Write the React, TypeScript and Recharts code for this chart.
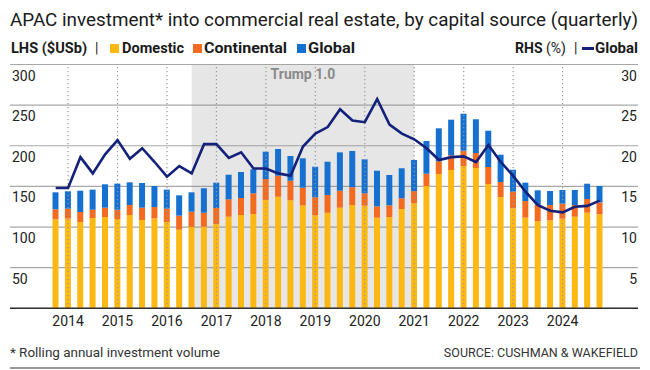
import React from 'react';
import {
  ComposedChart,
  Bar,
  Line,
  XAxis,
  YAxis,
  CartesianGrid,
  ReferenceArea,
  ReferenceLine,
} from 'recharts';

const quarters = [
  '2013 Q4',
  '2014 Q1', '2014 Q2', '2014 Q3', '2014 Q4',
  '2015 Q1', '2015 Q2', '2015 Q3', '2015 Q4',
  '2016 Q1', '2016 Q2', '2016 Q3', '2016 Q4',
  '2017 Q1', '2017 Q2', '2017 Q3', '2017 Q4',
  '2018 Q1', '2018 Q2', '2018 Q3', '2018 Q4',
  '2019 Q1', '2019 Q2', '2019 Q3', '2019 Q4',
  '2020 Q1', '2020 Q2', '2020 Q3', '2020 Q4',
  '2021 Q1', '2021 Q2', '2021 Q3', '2021 Q4',
  '2022 Q1', '2022 Q2', '2022 Q3', '2022 Q4',
  '2023 Q1', '2023 Q2', '2023 Q3', '2023 Q4',
  '2024 Q1', '2024 Q2', '2024 Q3', '2024 Q4',
];

// LHS ($USb)
const domestic = [
  109.5, 110.3, 106.2, 111.1, 112.3, 109.9, 114.8, 108.7, 110.7, 106.2, 96.7, 100.2,
  100.4, 103.7, 112.7, 114.8, 116.0, 133.3, 137.3, 132.9, 126.7, 114.8, 117.6, 123.8,
  127.1, 126.2, 111.5, 112.3, 122.2, 129.6, 150.5, 165.3, 170.2, 175.1, 172.6, 152.9,
  137.0, 123.0, 111.5, 107.1, 108.3, 110.3, 112.7, 117.6, 115.7,
];
const continental = [
  12.3, 12.3, 12.3, 10.2, 11.5, 11.4, 12.3, 15.1, 13.9, 16.4, 17.3, 18.7,
  17.2, 19.7, 21.4, 20.9, 25.5, 25.8, 25.9, 24.1, 21.7, 21.8, 21.8, 20.9,
  21.8, 15.3, 14.0, 14.4, 13.2, 14.7, 15.1, 15.6, 18.1, 18.8, 18.5, 21.0,
  18.4, 20.5, 20.5, 20.4, 18.8, 18.4, 14.4, 16.9, 14.7,
];
const globalVol = [
  20.9, 21.4, 26.2, 24.7, 28.8, 32.1, 27.9, 30.4, 25.9, 23.4, 25.0, 23.8,
  30.1, 31.2, 30.3, 32.0, 29.5, 33.6, 32.8, 30.4, 36.2, 37.6, 41.0, 47.2,
  44.7, 41.8, 43.8, 37.3, 36.9, 38.2, 40.3, 40.6, 43.8, 45.5, 41.5, 44.6,
  33.6, 27.0, 22.6, 17.7, 17.2, 16.9, 18.5, 18.8, 20.1,
];
// RHS (%)
const globalShare = [
  14.8, 14.8, 18.6, 16.6, 18.95, 20.7, 18.4, 19.7, 18.0, 16.2, 17.5, 16.6,
  20.2, 20.2, 18.5, 19.2, 17.2, 17.2, 16.6, 16.3, 19.9, 21.5, 22.3, 24.5,
  23.1, 22.9, 25.75, 22.6, 21.5, 20.8, 19.7, 18.25, 18.6, 18.7, 18.0, 20.1,
  18.0, 16.3, 14.35, 12.7, 12.0, 11.8, 12.5, 12.6, 13.25,
];

const leftTicks = [50, 100, 150, 200, 250, 300];
const rightTicks = [5, 10, 15, 20, 25, 30];
const trumpStart = '2016 Q3';
const trumpEnd = '2021 Q1';
const trumpLabel = 'Trump 1.0';

const data = quarters.map((q, i) => ({
  i,
  q,
  domestic: domestic[i],
  continental: continental[i],
  global: globalVol[i],
  share: globalShare[i],
}));

const yearTickIdx = quarters
  .map((q, i) => (q.endsWith('Q1') ? i : -1))
  .filter((i) => i >= 0);

const FONT = "Roboto, 'Noto Sans', 'DejaVu Sans', sans-serif";
const C_DOM = '#FDB813';
const C_CON = '#F26B21';
const C_GLO = '#1670D0';
const C_LINE = '#13217A';

const LeftTick = (props: any) => (
  <text x={12} y={props.y + 16} fontSize={14} fill="#222" fontFamily={FONT}>
    {props.payload.value}
  </text>
);
const RightTick = (props: any) => (
  <text x={637} y={props.y + 16} fontSize={14} fill="#222" textAnchor="end" fontFamily={FONT}>
    {props.payload.value}
  </text>
);
const XTick = (props: any) => (
  <text x={props.x} y={326} fontSize={14} fill="#222" textAnchor="middle" fontFamily={FONT}>
    {quarters[props.payload.value].slice(0, 4)}
  </text>
);

export default function App() {
  return (
    <div
      style={{
        position: 'absolute',
        left: 0,
        top: 0,
        width: 650,
        height: 370,
        background: '#fff',
        fontFamily: FONT,
      }}
    >
      <div style={{ position: 'absolute', left: 0, top: 0 }}>
        <ComposedChart
          width={650}
          height={370}
          data={data}
          margin={{ top: 64.5, right: 11, bottom: 31.7, left: 9 }}
        >
          <ReferenceArea
            x1={quarters.indexOf(trumpStart)}
            x2={quarters.indexOf(trumpEnd)}
            yAxisId="left"
            fill="#808080"
            fillOpacity={0.2}
            stroke="none"
            label={{
              value: trumpLabel,
              position: 'insideTop',
              fill: '#8a8a8a',
              fontSize: 14,
              fontWeight: 700,
              fontFamily: FONT,
              offset: 5,
            }}
          />
          <CartesianGrid vertical={false} stroke="#a8a8a8" strokeWidth={1.2} yAxisId="left" />
          <XAxis
            type="number"
            dataKey="i"
            domain={[0, quarters.length - 1]}
            ticks={yearTickIdx}
            interval={0}
            padding={{ left: 45.7, right: 38.3 }}
            axisLine={{ stroke: '#333', strokeWidth: 1.5 }}
            tickLine={false}
            tick={<XTick />}
            height={30}
          />
          <YAxis
            yAxisId="left"
            domain={[0, 300]}
            ticks={leftTicks}
            interval={0}
            width={1}
            axisLine={false}
            tickLine={false}
            tick={<LeftTick />}
          />
          <YAxis
            yAxisId="right"
            orientation="right"
            domain={[0, 30]}
            ticks={rightTicks}
            interval={0}
            width={1}
            axisLine={false}
            tickLine={false}
            tick={<RightTick />}
          />
          <Bar yAxisId="left" dataKey="domestic" stackId="a" fill={C_DOM} barSize={6} isAnimationActive={false} />
          <Bar yAxisId="left" dataKey="continental" stackId="a" fill={C_CON} barSize={6} isAnimationActive={false} />
          <Bar yAxisId="left" dataKey="global" stackId="a" fill={C_GLO} barSize={6} isAnimationActive={false} />
          {yearTickIdx.map((i) => (
            <ReferenceLine
              key={i}
              x={i}
              yAxisId="left"
              stroke="#999"
              strokeWidth={1.2}
              strokeDasharray="1.2 2.8"
            />
          ))}
          <Line
            yAxisId="right"
            type="linear"
            dataKey="share"
            stroke={C_LINE}
            strokeWidth={2.6}
            dot={false}
            isAnimationActive={false}
          />
        </ComposedChart>
      </div>
      <svg
        width={650}
        height={370}
        style={{ position: 'absolute', left: 0, top: 0, pointerEvents: 'none' }}
        fontFamily={FONT}
      >
        <text x={10} y={26} fontSize={18.5} fill="#1a1a1a" textLength={628} lengthAdjust="spacingAndGlyphs">
          APAC investment* into commercial real estate, by capital source (quarterly)
        </text>
        <g fontSize={14} fill="#1a1a1a">
          <text x={11} y={53} fontWeight={700} textLength={76} lengthAdjust="spacingAndGlyphs">
            LHS ($USb)
          </text>
          <text x={95} y={53}>|</text>
          <rect x={110} y={44} width={9} height={9} fill={C_DOM} />
          <text x={122} y={53} fontWeight={700} textLength={62} lengthAdjust="spacingAndGlyphs">
            Domestic
          </text>
          <rect x={193} y={44} width={9} height={9} fill={C_CON} />
          <text x={204} y={53} fontWeight={700} textLength={83} lengthAdjust="spacingAndGlyphs">
            Continental
          </text>
          <rect x={297} y={44} width={9} height={9} fill={C_GLO} />
          <text x={308} y={53} fontWeight={700} textLength={47} lengthAdjust="spacingAndGlyphs">
            Global
          </text>
          <text x={566} y={53} textAnchor="end">
            <tspan fontWeight={700}>RHS</tspan> (%)
          </text>
          <text x={574} y={53}>|</text>
          <line x1={582} x2={594} y1={48.5} y2={48.5} stroke={C_LINE} strokeWidth={3} />
          <text x={638} y={53} fontWeight={700} textAnchor="end" textLength={43} lengthAdjust="spacingAndGlyphs">
            Global
          </text>
        </g>
        <text x={10} y={357} fontSize={13.5} fill="#333" textLength={210} lengthAdjust="spacingAndGlyphs">
          * Rolling annual investment volume
        </text>
        <text x={638} y={357} fontSize={12.5} fill="#333" textAnchor="end">
          SOURCE: CUSHMAN &amp; WAKEFIELD
        </text>
        <line x1={10} x2={640} y1={368} y2={368} stroke="#999" strokeWidth={2} />
      </svg>
    </div>
  );
}
